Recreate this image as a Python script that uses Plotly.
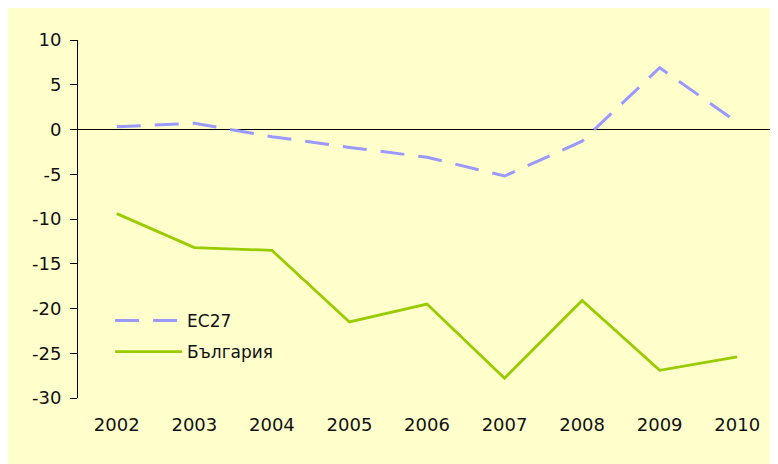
import plotly.graph_objects as go

years = ["2002", "2003", "2004", "2005", "2006", "2007", "2008", "2009", "2010"]
ec27 = [0.3, 0.7, -0.8, -2.0, -3.1, -5.2, -1.3, 6.9, 0.8]
bulgaria = [-9.4, -13.2, -13.5, -21.5, -19.5, -27.8, -19.1, -26.9, -25.4]
y_ticks = [10, 5, 0, -5, -10, -15, -20, -25, -30]

FONT = "DejaVu Sans"
BG = "#FFFFCC"

fig = go.Figure()
fig.add_trace(go.Scatter(
    x=years, y=ec27, mode="lines", name="ЕС27", legendgroup="a",
    line=dict(color="#9999FF", width=3, dash="24px,14px"),
))
fig.add_trace(go.Scatter(
    x=years, y=bulgaria, mode="lines", name="България", legendgroup="b",
    line=dict(color="#99CC00", width=2.8),
))

fig.update_layout(
    width=770, height=456,
    margin=dict(l=70, r=2, t=32, b=66),
    paper_bgcolor=BG,
    plot_bgcolor=BG,
    font=dict(family=FONT, size=18, color="#111111"),
    showlegend=True,
    legend=dict(
        x=0.046, y=0.172, xanchor="left", yanchor="middle",
        bgcolor="rgba(0,0,0,0)", borderwidth=0,
        font=dict(family=FONT, size=17, color="#111111"),
        itemwidth=67, tracegroupgap=6, traceorder="grouped",
    ),
)
fig.update_xaxes(
    type="category", categoryorder="array", categoryarray=years,
    range=[-0.5, len(years) - 0.5],
    showgrid=False, showline=False, zeroline=False,
    ticks="", ticklabelstandoff=14,
    tickfont=dict(family=FONT, size=18, color="#111111"),
)
fig.update_yaxes(
    range=[-30, 10], tickvals=y_ticks, ticktext=[str(v) for v in y_ticks],
    showgrid=False, showline=True, linecolor="black", linewidth=1,
    ticks="outside", ticklen=7, tickcolor="black", tickwidth=1,
    zeroline=True, zerolinecolor="black", zerolinewidth=1,
    ticklabelstandoff=5,
    tickfont=dict(family=FONT, size=18, color="#111111"),
)

fig.write_html("out.html")
